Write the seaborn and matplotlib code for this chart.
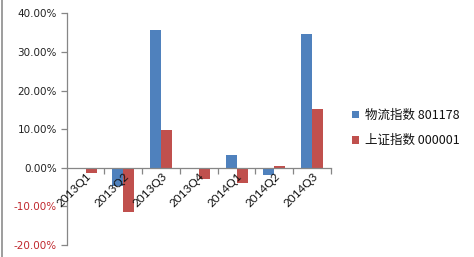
import matplotlib
matplotlib.use("Agg")
import matplotlib.pyplot as plt
import seaborn as sns
import pandas as pd
from matplotlib.ticker import FuncFormatter, MultipleLocator, FixedLocator
from matplotlib.lines import Line2D

quarters = ["2013Q1", "2013Q2", "2013Q3", "2013Q4", "2014Q1", "2014Q2", "2014Q3"]
series_names = ["物流指数 801178", "上证指数 000001"]
logistics = [-0.3, -4.8, 35.7, 0.0, 3.4, -1.9, 34.6]
shanghai = [-1.4, -11.5, 9.8, -2.8, -4.0, 0.5, 15.3]

df = pd.DataFrame({
    "quarter": quarters * 2,
    "series": [series_names[0]] * len(quarters) + [series_names[1]] * len(quarters),
    "value": logistics + shanghai,
})

sns.set_theme(style="white")
plt.rcParams["font.family"] = ["Noto Sans CJK SC", "DejaVu Sans"]

fig = plt.figure(figsize=(4.74, 2.57), dpi=100)
ax = fig.add_axes([66.7 / 474, 1 - 245 / 257, (331 - 66.7) / 474, (245 - 13.3) / 257])

sns.barplot(data=df, x="quarter", y="value", hue="series", order=quarters,
            hue_order=series_names, palette=["#4F81BD", "#C0504D"],
            width=0.58, gap=0, saturation=1, ax=ax, legend=True, errorbar=None,
            linewidth=0, edgecolor="none")

ax.set_ylim(-20, 40)
ax.set_xlim(-0.5, len(quarters) - 0.5)
ax.yaxis.set_major_locator(MultipleLocator(10))
ax.yaxis.set_major_formatter(FuncFormatter(lambda v, p: f"{v:.2f}%"))
ax.set_xlabel("")
ax.set_ylabel("")

for s in ["top", "right"]:
    ax.spines[s].set_visible(False)
ax.spines["bottom"].set_position(("data", 0))
for s in ["left", "bottom"]:
    ax.spines[s].set_color("#868686")
    ax.spines[s].set_linewidth(0.9)

ax.tick_params(axis="y", which="major", direction="out", length=4, color="#868686",
               width=0.9, labelsize=7.5, pad=3, left=True)
ax.tick_params(axis="x", which="major", length=0, labelsize=8.5, pad=2)
ax.xaxis.set_minor_locator(FixedLocator([i + 0.5 for i in range(len(quarters))]))
ax.tick_params(axis="x", which="minor", direction="out", length=4, color="#868686",
               width=0.9, bottom=True)
ax.xaxis.set_zorder(5)

for lbl in ax.get_yticklabels():
    lbl.set_family(["DejaVu Sans"])
    txt = lbl.get_text()
    if txt.startswith("-") or txt.startswith("−"):
        lbl.set_color("#C0272D")
    else:
        lbl.set_color("#222222")

for lbl in ax.get_xticklabels():
    lbl.set_rotation(45)
    lbl.set_ha("right")
    lbl.set_rotation_mode("anchor")
    lbl.set_family(["Lato", "DejaVu Sans"])
    lbl.set_color("#111111")

leg = ax.legend(loc="center left", bbox_to_anchor=(341 / 474, 1 - 128 / 257),
                bbox_transform=fig.transFigure, frameon=False, fontsize=9,
                handlelength=0.55, handleheight=0.55, handletextpad=0.5,
                labelspacing=1.0)
for t in leg.get_texts():
    t.set_color("#111111")

fig.add_artist(Line2D([1.5 / 474, 1.5 / 474], [0, 1], color="#8c8c8c", lw=1.2,
                      transform=fig.transFigure))

fig.savefig("out.png", dpi=100)
